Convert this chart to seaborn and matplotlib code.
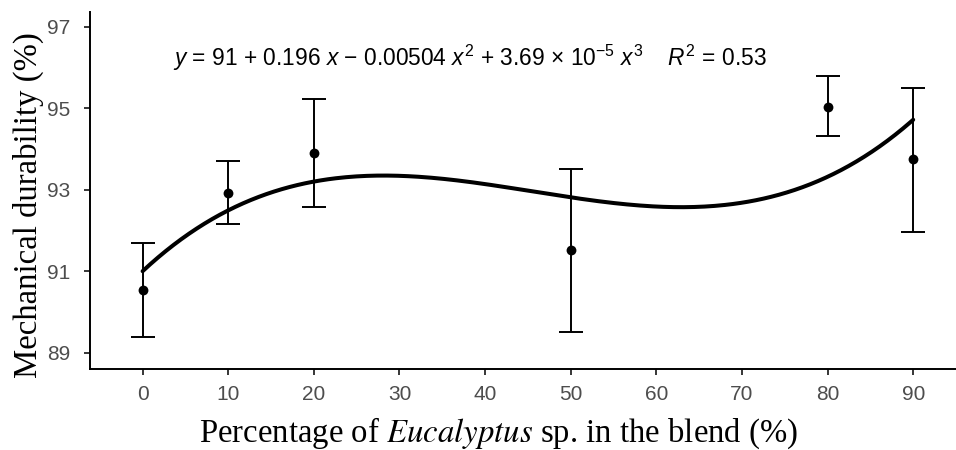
import numpy as np
import pandas as pd
import matplotlib
matplotlib.use("Agg")
import matplotlib.pyplot as plt
import seaborn as sns

# blend level (% Eucalyptus) and mean durability with error bar limits
blend = [0, 10, 20, 50, 80, 90]
durability = [90.54, 92.93, 93.91, 91.52, 95.04, 93.75]
err_low = [89.39, 92.16, 92.58, 89.52, 94.32, 91.97]
err_high = [91.70, 93.70, 95.22, 93.52, 95.78, 95.50]

# cubic fit shown on the chart (highest power first)
fit_coefs = [3.69e-5, -0.00504, 0.196, 91.0]
x_ticks = [0, 10, 20, 30, 40, 50, 60, 70, 80, 90]
y_ticks = [89, 91, 93, 95, 97]

sns.set_theme(style="ticks")
plt.rcParams["font.family"] = ["Liberation Sans", "DejaVu Sans"]
plt.rcParams["mathtext.fontset"] = "custom"
plt.rcParams["mathtext.rm"] = "Liberation Sans"
plt.rcParams["mathtext.it"] = "Liberation Sans:italic"

df = pd.DataFrame({"blend": blend, "durability": durability,
                   "low": err_low, "high": err_high})
xs = np.linspace(0, 90, 300)
fit = pd.DataFrame({"x": xs, "y": np.polyval(fit_coefs, xs)})

fig = plt.figure(figsize=(9.56, 4.5), dpi=100)
ax = fig.add_axes([0.0941, 0.18, 1 - 0.0941, 0.9733 - 0.18])

sns.lineplot(data=fit, x="x", y="y", color="black", linewidth=2.9, ax=ax)
ax.errorbar(df["blend"], df["durability"],
            yerr=[df["durability"] - df["low"], df["high"] - df["durability"]],
            fmt="none", ecolor="black", elinewidth=1.4, capsize=8.6, capthick=1.4)
sns.scatterplot(data=df, x="blend", y="durability", color="black", s=50,
                edgecolor="black", linewidth=0, ax=ax, zorder=5)

ax.set_xlim(-6.15, 95.0)
ax.set_ylim(88.6, 97.36)
ax.set_xticks(x_ticks)
ax.set_yticks(y_ticks)
ax.tick_params(axis="both", colors="black", labelcolor="#4d4d4d",
               labelsize=15, length=4, width=1.1)
ax.tick_params(axis="x", pad=7.5)
ax.tick_params(axis="y", pad=10)
for side in ["top", "right"]:
    ax.spines[side].set_visible(False)
for side in ["left", "bottom"]:
    ax.spines[side].set_color("black")
    ax.spines[side].set_linewidth(1.4)

ax.set_ylabel("Mechanical durability (%)", family="Liberation Serif",
              fontsize=23.6, color="black", va="center", ha="center")
ax.yaxis.set_label_coords((28 - 90) / 866, (369 - 205) / 357)
ax.set_xlabel(r"Percentage of $\mathit{Eucalyptus}$ sp. in the blend (%)",
              family="Liberation Serif", math_fontfamily="stix",
              fontsize=23.6, color="black", va="center", ha="center")
ax.xaxis.set_label_coords((499 - 90) / 866, (369 - 433) / 357)

ax.text((470 - 90) / 866, (369 - 58) / 357,
        r"$y$ = 91 + 0.196 $x$ $-$ 0.00504 $x^2$ + 3.69 $\times$ 10$^{-5}$ $x^3$    $R^2$ = 0.53",
        transform=ax.transAxes, ha="center", va="center", fontsize=16.4,
        color="black")

fig.savefig("out.png", dpi=100)
